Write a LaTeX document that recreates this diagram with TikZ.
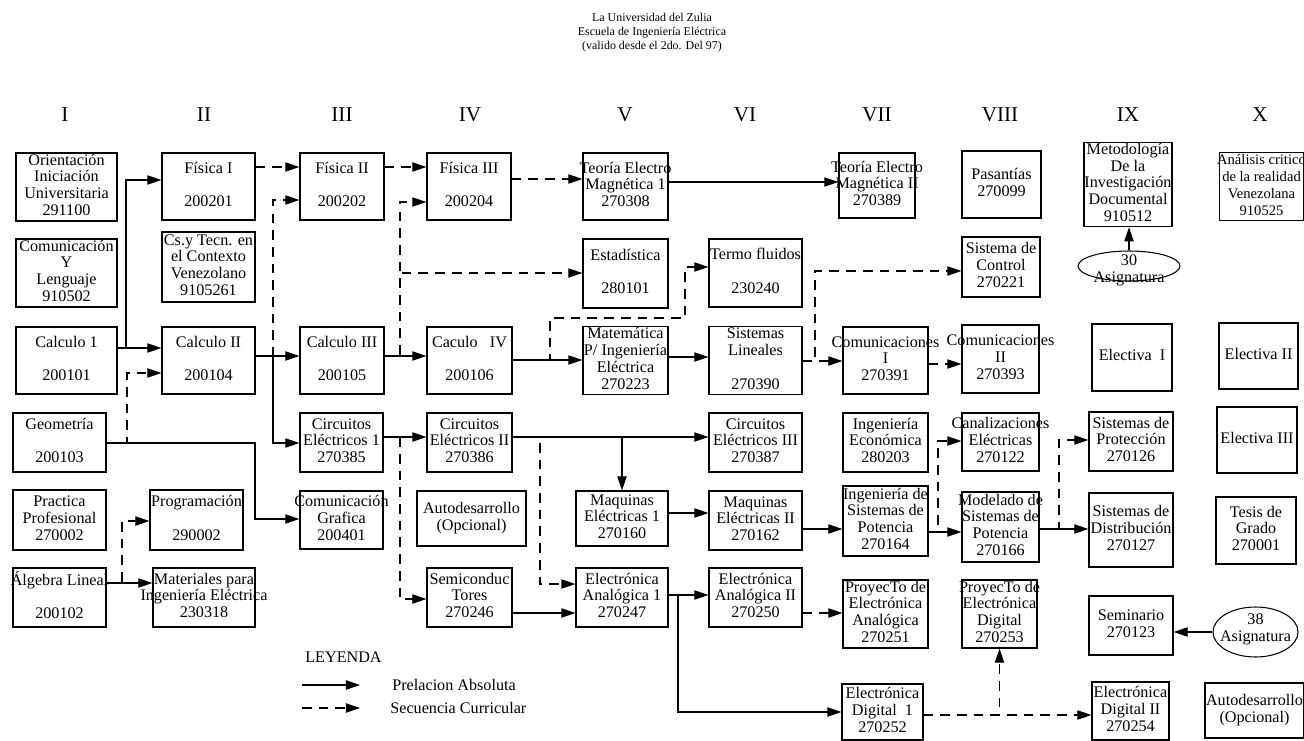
\documentclass[tikz,border=0pt]{standalone}
\usepackage{fontspec}
\setmainfont{Liberation Serif}
\usetikzlibrary{arrows.meta,shapes.geometric}

% text of a box, centred and allowed to run over the border
\newcommand{\celda}[1]{\hbox to 0pt{\hss\begin{tabular}{@{}c@{}}#1\end{tabular}\hss}}

\begin{document}
\begin{tikzpicture}[
    x=0.02cm, y=-0.02cm,
    box/.style={draw, rectangle, line width=0.7pt, inner sep=0pt, font=\fontsize{9.2}{9.6}\selectfont},
    oval/.style={draw, ellipse, line width=0.6pt, inner sep=0pt, font=\fontsize{9.2}{9.6}\selectfont},
    sz/.style 2 args={minimum width=#1*0.02cm, minimum height=#2*0.02cm},
    semlbl/.style={font=\fontsize{12}{14}\selectfont},
    pa/.style={line width=0.6pt, -{Triangle[length=8pt, width=5.3pt]}},
    sc/.style={pa, dash pattern=on 5.5pt off 4pt}
]
\useasboundingbox (0,0) rectangle (1304,740);

% Title
\node[font=\fontsize{6.8}{8}\selectfont, align=center] (tit) at (652,33)
    {La Universidad del Zulia\\Escuela de Ingeniería Eléctrica\\(valido desde el 2do. Del 97)};

% Semesters
\foreach \x/\r [count=\i] in {65/I, 204/II, 342/III, 470/IV, 625/V, 745/VI, 877/VII, 1000/VIII, 1128/IX, 1260/X}
    \node[semlbl] (s\i) at (\x,115) {\r};

% Semestre I
\node[box, sz={101}{68}] (ori) at (66.5,187) {\celda{Orientación\\Iniciación\\Universitaria\\291100}};
\node[box, sz={101}{68}] (com) at (66.5,273) {\celda{Comunicación\\Y\\Lenguaje\\910502}};
\node[box, sz={101}{67}] (cal1) at (66.5,360.5) {\celda{Calculo 1\\[9.6pt]200101}};
\node[box, sz={93}{59}] (geo) at (59.5,442.5) {\celda{Geometría\\[9.6pt]200103}};
\node[box, sz={93}{60}] (pra) at (59.5,520) {\celda{Practica\\Profesional\\270002}};
\node[box, sz={93}{59}] (alg) at (59.5,597.5) {\celda{Álgebra Lineal\\[9.6pt]200102}};

% Semestre II
\node[box, sz={93}{67}] (fis1) at (208.5,186.5) {\celda{Física I\\[9.6pt]200201}};
\node[box, sz={93}{70}] (cst) at (208.5,267) {\celda{Cs.y Tecn. en\\el Contexto\\Venezolano\\9105261}};
\node[box, sz={93}{67}] (cal2) at (208.5,360.5) {\celda{Calculo II\\[9.6pt]200104}};
\node[box, sz={93}{60}] (prog) at (196.5,520) {\celda{Programación\\[9.6pt]290002}};
\node[box, sz={102}{59}] (mat) at (204,597.5) {\celda{Materiales para\\Ingeniería Eléctrica\\230318}};

% Semestre III
\node[box, sz={84}{67}] (fis2) at (342,186.5) {\celda{Física II\\[9.6pt]200202}};
\node[box, sz={84}{67}] (cal3) at (342,360.5) {\celda{Calculo III\\[9.6pt]200105}};
\node[box, sz={83}{59}] (ce1) at (341.5,442.5) {\celda{Circuitos\\Eléctricos 1\\270385}};
\node[box, sz={83}{58}] (cg) at (341.5,520) {\celda{Comunicación\\Grafica\\200401}};

% Semestre IV
\node[box, sz={84}{67}] (fis3) at (469,186.5) {\celda{Física III\\[9.6pt]200204}};
\node[box, sz={85}{67}] (cal4) at (469.5,360.5) {\celda{Caculo~~~IV\\[9.6pt]200106}};
\node[box, sz={85}{59}] (ce2) at (469.5,442.5) {\celda{Circuitos\\Eléctricos II\\270386}};
\node[box, sz={109}{55}] (aut1) at (471.5,518.5) {\celda{Autodesarrollo\\(Opcional)}};
\node[box, sz={85}{59}] (semi) at (469.5,597.5) {\celda{Semiconduc\\Tores\\270246}};

% Semestre V
\node[box, sz={85}{67}] (tem1) at (625.5,186.5) {\celda{Teoría Electro\\Magnética 1\\270308}};
\node[box, sz={85}{69}] (est) at (625.5,273.5) {\celda{Estadística\\[9.6pt]280101}};
\node[box, sz={85}{67}] (mie) at (625.5,360.5) {\celda{Matemática\\P/ Ingeniería\\Eléctrica\\270223}};
\node[box, sz={92}{55}] (me1) at (622,518.5) {\celda{Maquinas\\Eléctricas 1\\270160}};
\node[box, sz={92}{59}] (ea1) at (622,597.5) {\celda{Electrónica\\Analógica 1\\270247}};

% Semestre VI
\node[box, sz={93}{68}] (ter) at (755.5,273) {\celda{Termo fluidos\\[9.6pt]230240}};
\node[box, sz={93}{67}] (sl) at (755.5,360.5) {\celda{Sistemas\\Lineales\\[9.6pt]270390}};
\node[box, sz={93}{59}] (ce3) at (755.5,442.5) {\celda{Circuitos\\Eléctricos III\\270387}};
\node[box, sz={93}{59}] (me2) at (755.5,520.5) {\celda{Maquinas\\Eléctricas II\\270162}};
\node[box, sz={93}{59}] (ea2) at (755.5,597.5) {\celda{Electrónica\\Analógica II\\270250}};

% Semestre VII
\node[box, sz={76}{65}] (tem2) at (877,185.5) {\celda{Teoría Electro\\Magnética II\\270389}};
\node[box, sz={85}{67}] (com1) at (885.5,360.5) {\celda{Comunicaciones\\I\\270391}};
\node[box, sz={85}{59}] (ie) at (885.5,442.5) {\celda{Ingeniería\\Económica\\280203}};
\node[box, sz={85}{70}] (isp) at (885.5,521) {\celda{Ingeniería de\\Sistemas de\\Potencia\\270164}};
\node[box, sz={85}{68}] (pea) at (885.5,614) {\celda{ProyecTo de\\Electrónica\\Analógica\\270251}};
\node[box, sz={81}{56}] (ed1) at (882.5,712) {\celda{Electrónica\\Digital~~1\\270252}};

% Semestre VIII
\node[box, sz={79}{67}] (pas) at (1001.5,184.5) {\celda{Pasantías\\270099}};
\node[box, sz={78}{60}] (sctl) at (1001,267) {\celda{Sistema de\\Control\\270221}};
\node[box, sz={77}{68}] (com2) at (1000.5,359) {\celda{Comunicaciones\\II\\270393}};
\node[box, sz={77}{58}] (can) at (1000.5,442) {\celda{Canalizaciones\\Eléctricas\\270122}};
\node[box, sz={77}{70}] (mod) at (1000.5,527) {\celda{Modelado de\\Sistemas de\\Potencia\\270166}};
\node[box, sz={75}{68}] (ped) at (999.5,614) {\celda{ProyecTo de\\Electrónica\\Digital\\270253}};

% Semestre IX
\node[box, sz={88}{83}] (met) at (1128,184.5) {\celda{Metodología\\De la\\Investigación\\Documental\\910512}};
\node[oval, sz={102}{30}] (a30) at (1129,266) {\smash{\raisebox{-5pt}{\celda{30\\Asignatura}}}};
\node[box, sz={80}{67}] (el1) at (1132,357.5) {\celda{Electiva~~I}};
\node[box, sz={84}{59}] (sp) at (1131,441.5) {\celda{Sistemas de\\Protección\\270126}};
\node[box, sz={84}{74}] (sd) at (1131,530) {\celda{Sistemas de\\Distribución\\270127}};
\node[box, sz={84}{59}] (sem) at (1131,625.5) {\celda{Seminario\\270123}};
\node[box, sz={77}{58}] (ed2) at (1130.5,711) {\celda{Electrónica\\Digital II\\270254}};

% Semestre X
\node[box, sz={84}{67}, font=\fontsize{8.3}{9.6}\selectfont] (ana) at (1261.5,186.5) {\celda{Análisis critico\\de la realidad\\Venezolana\\910525}};
\node[box, sz={79}{66}] (el2) at (1258.5,356) {\celda{Electiva II}};
\node[box, sz={80}{66}] (el3) at (1257,440) {\celda{Electiva III}};
\node[box, sz={80}{67}] (tes) at (1256,530.5) {\celda{Tesis de\\Grado\\270001}};
\node[oval, sz={85}{50}] (a38) at (1255.5,632) {\smash{\raisebox{-1pt}{\celda{38\\Asignatura}}}};
\node[box, sz={99}{55}] (aut2) at (1254.5,710.5) {\celda{Autodesarrollo\\(Opcional)}};

% Secuencia curricular (dashed, drawn first)
\draw[sc] (fis1.east |- 0,167) -- (fis2.west |- 0,167);
\draw[sc] (fis2.east |- 0,167) -- (fis3.west |- 0,167);
\draw[sc] (fis3.east |- 0,179) -- (tem1.west |- 0,179);
\draw[sc] (geo.east |- 0,443) -| (127,373) -- (cal2.west |- 0,373);
\draw[sc] (alg.east |- 0,583) -| (122,521) -- (prog.west |- 0,521);
\draw[sc] (cal2.east |- 0,356) -| (273,200) -- (fis2.west |- 0,200);
\draw[sc] (cal3.east |- 0,356) -| (400,202) -- (fis3.west |- 0,202);
\draw[sc] (cal3.east |- 0,356) -| (400,273) -- (est.west |- 0,273);
\draw[sc] (cal4.east |- 0,360) -| (550,318) -| (685,267) -- (ter.west |- 0,267);
\draw[sc] (ce1.east |- 0,437) -| (400,599) -- (semi.west |- 0,599);
\draw[sc] (ce2.east |- 0,437) -| (540,584) -- (ea1.west |- 0,584);
\draw[sc] (sl.east |- 0,361) -- (com1.west |- 0,361);
\draw[sc] (sl.east |- 0,361) -| (815,271) -- (sctl.west |- 0,271);
\draw[sc] (com1.east |- 0,364) -- (com2.west |- 0,364);
\draw[sc] (isp.east |- 0,532) -| (938,441) -- (can.west |- 0,441);
\draw[sc] (mod.east |- 0,529) -| (1059,440) -- (sp.west |- 0,440);
\draw[sc] (ea2.east |- 0,613) -- (pea.west |- 0,613);
\draw[sc] (ed1.east |- 0,715) -- (ed2.west |- 0,715);
\draw[sc] (ed1.east |- 0,715) -| (ped.south);

% Prelacion absoluta
\draw[pa] (cal1.east |- 0,348) -- (cal2.west |- 0,348);
\draw[pa] (cal1.east |- 0,348) -- (126,348) |- (fis1.west |- 0,180);
\draw[pa] (geo.east |- 0,443) -| (255,519) -- (cg.west |- 0,519);
\draw[pa] (alg.east |- 0,583) -- (mat.west |- 0,583);
\draw[pa] (cal2.east |- 0,356) -- (cal3.west |- 0,356);
\draw[pa] (cal2.east |- 0,356) -| (273,443) -- (ce1.west |- 0,443);
\draw[pa] (cal3.east |- 0,356) -- (cal4.west |- 0,356);
\draw[pa] (cal4.east |- 0,360) -- (mie.west |- 0,360);
\draw[pa] (tem1.east |- 0,182) -- (tem2.west |- 0,182);
\draw[pa] (ce1.east |- 0,437) -- (ce2.west |- 0,437);
\draw[pa] (ce2.east |- 0,437) -- (ce3.west |- 0,437);
\draw[pa] (ce2.east |- 0,437) -| (me1.north);
\draw[pa] (semi.east |- 0,613) -- (ea1.west |- 0,613);
\draw[pa] (mie.east |- 0,357) -- (sl.west |- 0,357);
\draw[pa] (me1.east |- 0,513) -- (me2.west |- 0,513);
\draw[pa] (me2.east |- 0,529) -- (isp.west |- 0,529);
\draw[pa] (isp.east |- 0,532) -- (mod.west |- 0,532);
\draw[pa] (mod.east |- 0,529) -- (sd.west |- 0,529);
\draw[pa] (ea1.east |- 0,595) -- (ea2.west |- 0,595);
\draw[pa] (ea1.east |- 0,595) -| (678,712) -- (ed1.west |- 0,712);
\draw[pa] (a30.north) -- (a30.north |- met.south);
\draw[pa] (a38.west) -- (sem.east |- a38.west);

% Leyenda
\node[anchor=west, inner sep=0pt, font=\fontsize{9.2}{10}\selectfont] (ley) at (305,657) {LEYENDA};
\coordinate (l1a) at (302,685);
\coordinate (l1b) at (360,685);
\coordinate (l2a) at (302,708);
\coordinate (l2b) at (360,708);
\draw[pa] (l1a) -- (l1b);
\draw[sc] (l2a) -- (l2b);
\node[anchor=west, inner sep=0pt, font=\fontsize{9.2}{10}\selectfont] (lpa) at (392,685) {Prelacion Absoluta};
\node[anchor=west, inner sep=0pt, font=\fontsize{9.2}{10}\selectfont] (lsc) at (390,708) {Secuencia Curricular};

\end{tikzpicture}
\end{document}
